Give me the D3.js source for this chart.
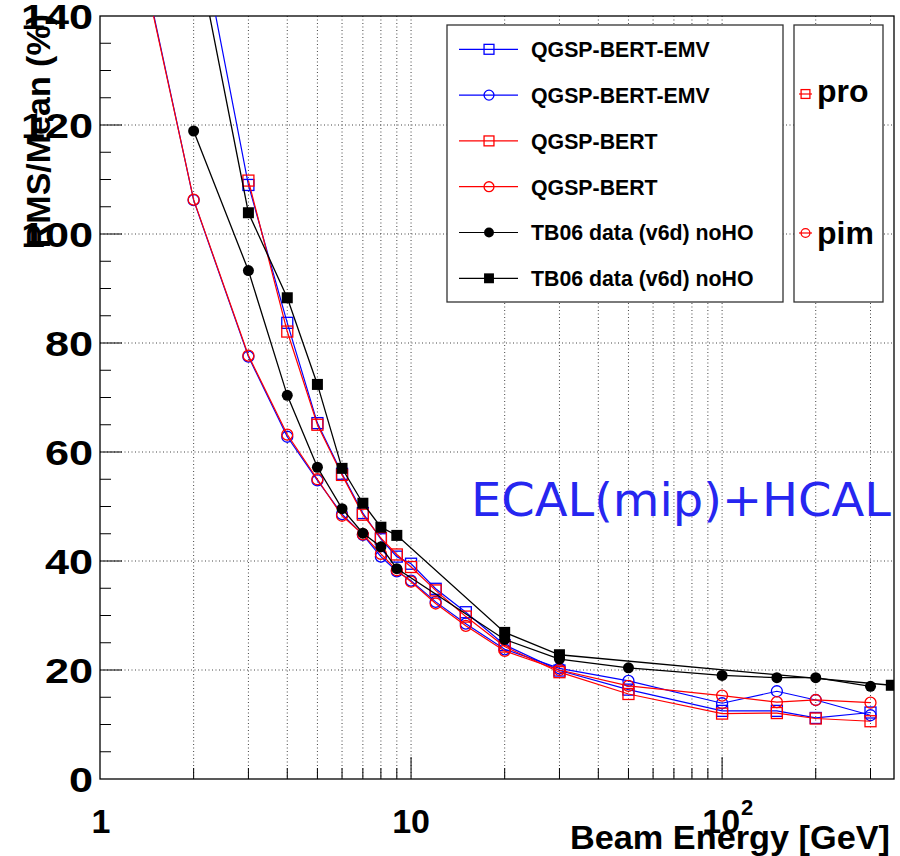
<!DOCTYPE html>
<html>
<head>
<meta charset="utf-8">
<script src="https://cdn.jsdelivr.net/npm/d3@7/dist/d3.min.js"></script>
<style>
  html, body { margin: 0; padding: 0; background: #fff; }
  svg { display: block; }
  .lbl { font-family: "Liberation Sans", Arial, sans-serif; font-weight: bold; fill: #000; }
</style>
</head>
<body>
<svg id="chart" width="900" height="856"></svg>
<script>
// ---------------- data ----------------
const energiesEmvPro  = [2,3,4,5,6,7,8,9,10,12,15,20,30,50,100,150,200,300];
const emvPro          = [161,109.0,83.7,65.3,56.0,48.8,44.0,40.8,39.5,34.9,30.6,24.6,19.9,16.4,12.5,12.5,11.2,12.2];
const energiesBertPro = [3,4,5,6,7,8,9,10,12,15,20,30,50,100,150,200,300];
const bertPro         = [109.8,82.1,65.0,55.8,48.5,44.2,41.2,38.9,34.6,29.8,24.3,19.6,15.6,12.0,12.1,11.1,10.6];
const energiesModelPim = [1,2,3,4,5,6,7,8,9,10,12,15,20,30,50,100,150,200,300];
const emvPim          = [186,106.2,77.5,62.8,54.8,48.6,44.8,40.8,38.1,36.4,32.5,28.5,23.8,20.3,18.0,13.9,16.1,14.5,11.7];
const bertPim         = [185,106.3,77.7,63.2,55.0,48.3,44.9,41.3,38.3,36.2,32.2,28.1,23.5,20.0,17.1,15.3,14.1,14.5,14.0];
const energiesDataPim = [2,3,4,5,6,7,8,9,20,30,50,100,150,200,300];
const dataPim         = [118.9,93.3,70.4,57.2,49.6,45.1,42.6,38.6,25.6,22.0,20.4,19.0,18.6,18.6,17.0];
const energiesDataPro = [2,3,4,5,6,7,8,9,20,30,350];
const dataPro         = [155,103.9,88.3,72.4,57.0,50.6,46.2,44.7,26.9,22.8,17.2];

const legendLabels = ["QGSP-BERT-EMV","QGSP-BERT-EMV","QGSP-BERT","QGSP-BERT","TB06 data (v6d) noHO","TB06 data (v6d) noHO"];
const yTicks = [0,20,40,60,80,100,120,140];
const xTickLabels = ["1","10","10"];
const xTickValues = [1,10,100];

// ---------------- setup ----------------
const svg = d3.select("#chart");
const L = 100, R = 894, T = 16, B = 779;
const x = d3.scaleLog().domain([1, 357]).range([L, R]);
const y = d3.scaleLinear().domain([0, 140]).range([B, T]);

svg.append("rect").attr("width",900).attr("height",856).attr("fill","#fff");

svg.append("clipPath").attr("id","plotclip")
  .append("rect").attr("x",L).attr("y",T).attr("width",R-L).attr("height",B-T);

// grid
const xGridVals = [];
for (let d = 1; d <= 100; d *= 10) for (let k = 1; k <= 9; k++) { const v = d*k; if (v > 1 && v < 357) xGridVals.push(v); }
const grid = svg.append("g");
grid.selectAll("line.gx").data(xGridVals).enter().append("line")
  .attr("x1", d => x(d)).attr("x2", d => x(d)).attr("y1", T).attr("y2", B)
  .attr("stroke","#444").attr("stroke-width",1).attr("stroke-dasharray","1,2.5");
grid.selectAll("line.gy").data(yTicks.filter(v => v > 0 && v < 140)).enter().append("line")
  .attr("x1", L).attr("x2", R).attr("y1", d => y(d)).attr("y2", d => y(d))
  .attr("stroke","#444").attr("stroke-width",1).attr("stroke-dasharray","1,2.5");

// ticks
const ticks = svg.append("g").attr("stroke","#000").attr("stroke-width",1);
xGridVals.forEach(v => {
  const major = (v === 10 || v === 100);
  ticks.append("line").attr("x1", x(v)).attr("x2", x(v)).attr("y1", B).attr("y2", B - (major ? 22 : 11));
});
for (let v = 5; v < 140; v += 5) {
  const major = v % 20 === 0;
  ticks.append("line").attr("x1", L).attr("x2", L + (major ? 22 : 11)).attr("y1", y(v)).attr("y2", y(v));
}

// frame
svg.append("rect").attr("x",L).attr("y",T).attr("width",R-L).attr("height",B-T)
  .attr("fill","none").attr("stroke","#000").attr("stroke-width",1.3);

// tick labels
yTicks.forEach(v => {
  svg.append("text").attr("class","lbl")
    .attr("transform", `translate(93,${y(v)+13}) scale(1.2,1)`)
    .attr("text-anchor","end").attr("font-size",36).text(String(v));
});
svg.append("text").attr("class","lbl").attr("x", x(xTickValues[0])+1).attr("y", 833)
  .attr("text-anchor","middle").attr("font-size",34).text(xTickLabels[0]);
svg.append("text").attr("class","lbl").attr("x", x(xTickValues[1])).attr("y", 833)
  .attr("text-anchor","middle").attr("font-size",34).text(xTickLabels[1]);
svg.append("text").attr("class","lbl").attr("x", x(xTickValues[2])+18).attr("y", 833)
  .attr("text-anchor","end").attr("font-size",34).text(xTickLabels[2]);
svg.append("text").attr("class","lbl").attr("x", x(xTickValues[2])+19).attr("y", 815)
  .attr("text-anchor","start").attr("font-size",22).text("2");

// axis titles
svg.append("text").attr("class","lbl").attr("x", 570).attr("y", 849)
  .attr("text-anchor","start").attr("font-size",33)
  .attr("textLength",320).attr("lengthAdjust","spacingAndGlyphs").text("Beam Energy [GeV]");
svg.append("text").attr("class","lbl")
  .attr("transform","translate(50,14) rotate(-90)")
  .attr("text-anchor","end").attr("font-size",34).text("RMS/Mean (%)");

// ---------------- series ----------------
const series = [
  {xs: energiesEmvPro,  ys: emvPro,  color: "#0000ff", marker: "osq"},
  {xs: energiesModelPim, ys: emvPim, color: "#0000ff", marker: "ocirc"},
  {xs: energiesBertPro, ys: bertPro, color: "#ff0000", marker: "osq"},
  {xs: energiesModelPim, ys: bertPim, color: "#ff0000", marker: "ocirc"},
  {xs: energiesDataPim, ys: dataPim, color: "#000000", marker: "fcirc"},
  {xs: energiesDataPro, ys: dataPro, color: "#000000", marker: "fsq"}
];

function drawMarker(g, type, cx, cy, color, s) {
  s = s || 1;
  if (type === "osq") {
    g.append("rect").attr("x", cx-5.5*s).attr("y", cy-5.5*s).attr("width", 11*s).attr("height", 11*s)
      .attr("fill","none").attr("stroke", color).attr("stroke-width", 1.3);
  } else if (type === "ocirc") {
    g.append("circle").attr("cx", cx).attr("cy", cy).attr("r", 5.5*s)
      .attr("fill","none").attr("stroke", color).attr("stroke-width", 1.3);
  } else if (type === "fcirc") {
    g.append("circle").attr("cx", cx).attr("cy", cy).attr("r", 5.5*s).attr("fill", color);
  } else if (type === "fsq") {
    g.append("rect").attr("x", cx-5.5*s).attr("y", cy-5.5*s).attr("width", 11*s).attr("height", 11*s).attr("fill", color);
  }
}

const plot = svg.append("g").attr("clip-path","url(#plotclip)");
const line = d3.line().x(d => x(d[0])).y(d => y(d[1]));
series.forEach(s => {
  const pts = s.xs.map((e,i) => [e, s.ys[i]]);
  plot.append("path").datum(pts).attr("d", line)
    .attr("fill","none").attr("stroke", s.color).attr("stroke-width", s.color === "#000000" ? 1.3 : 1.2);
  const mg = plot.append("g");
  pts.forEach(p => drawMarker(mg, s.marker, x(p[0]), y(p[1]), s.color));
});

// ---------------- legend ----------------
const lg = svg.append("g");
lg.append("rect").attr("x",447).attr("y",25).attr("width",336).attr("height",277)
  .attr("fill","#fff").attr("stroke","#333").attr("stroke-width",1.3);
series.forEach((s,i) => {
  const yy = 49.3 + i*45.8;
  lg.append("line").attr("x1",459).attr("x2",518).attr("y1",yy).attr("y2",yy)
    .attr("stroke", s.color).attr("stroke-width",1.2);
  drawMarker(lg, s.marker, 489, yy, s.color, 0.9);
  lg.append("text").attr("class","lbl").attr("x",531).attr("y",yy+7.8)
    .attr("font-size",21.3).text(legendLabels[i]);
});

lg.append("rect").attr("x",794).attr("y",25).attr("width",89).attr("height",277)
  .attr("fill","#fff").attr("stroke","#333").attr("stroke-width",1.3);
lg.append("line").attr("x1",799).attr("x2",812).attr("y1",94).attr("y2",94).attr("stroke","#ff0000").attr("stroke-width",1.2);
drawMarker(lg, "osq", 805.5, 94, "#ff0000", 0.8);
lg.append("text").attr("class","lbl").attr("x",817).attr("y",102).attr("font-size",32).text("pro");
lg.append("line").attr("x1",799).attr("x2",812).attr("y1",233).attr("y2",233).attr("stroke","#ff0000").attr("stroke-width",1.2);
drawMarker(lg, "ocirc", 805.5, 233, "#ff0000", 0.8);
lg.append("text").attr("class","lbl").attr("x",817).attr("y",244).attr("font-size",32).text("pim");

// annotation
svg.append("text").attr("x",471).attr("y",516)
  .attr("font-family","'DejaVu Sans', sans-serif").attr("font-size",46)
  .attr("fill","#2626f0").attr("textLength",420).attr("lengthAdjust","spacingAndGlyphs")
  .text("ECAL(mip)+HCAL");
</script>
</body>
</html>
